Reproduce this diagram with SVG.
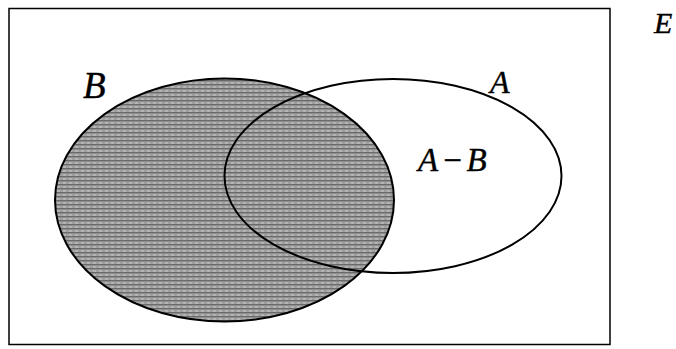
<svg xmlns="http://www.w3.org/2000/svg" width="676" height="349" viewBox="0 0 676 349">
  <style>
    .lbl { font-family: "Liberation Serif", "Times New Roman", serif; font-style: italic; fill: #000; stroke: #000; stroke-width: 0.4; }
    .outline { fill: none; stroke: #000; stroke-width: 2; }
  </style>
  <defs>
    <pattern id="hatch" width="6" height="4" patternUnits="userSpaceOnUse">
      <rect width="6" height="4" fill="#b4b4b4"/>
      <rect y="0" width="6" height="1.5" fill="#6a6a6a"/>
      <rect y="2.5" width="3" height="1" fill="#8a8a8a"/>
    </pattern>
  </defs>
  <rect x="0" y="0" width="676" height="349" fill="#fff"/>
  <g id="universe">
    <rect x="9" y="8.5" width="601" height="336" fill="none" stroke="#000" stroke-width="1.5"/>
    <text class="lbl" x="654" y="33" font-size="30">E</text>
  </g>
  <g id="setB">
    <ellipse cx="224.5" cy="200" rx="169.5" ry="121.5" fill="url(#hatch)" stroke="#000" stroke-width="2"/>
    <text class="lbl" x="83" y="98" font-size="37">B</text>
  </g>
  <g id="setA">
    <ellipse class="outline" cx="393" cy="176" rx="168.5" ry="97"/>
    <text class="lbl" x="490" y="93" font-size="32">A</text>
  </g>
  <g id="diff">
    <text class="lbl" x="418" y="171" font-size="33">A<tspan dx="3">−</tspan><tspan dx="3">B</tspan></text>
  </g>
  <g id="connectors"></g>
</svg>
